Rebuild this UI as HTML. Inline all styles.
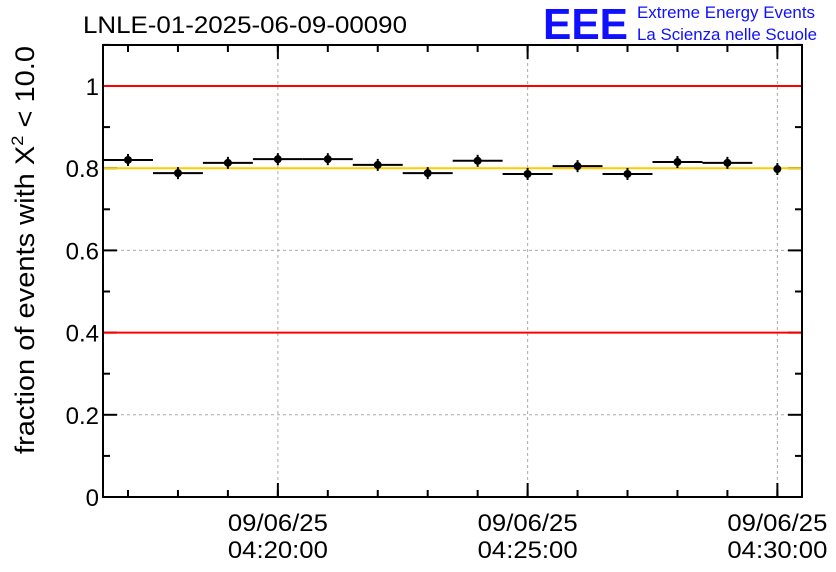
<!DOCTYPE html>
<html><head><meta charset="utf-8"><style>body{margin:0;background:#fff}svg{display:block;font-family:"Liberation Sans",sans-serif}</style></head>
<body>
<svg id="c" width="836" height="572" xmlns="http://www.w3.org/2000/svg">
<text x="83" y="33" font-size="24" textLength="324" lengthAdjust="spacingAndGlyphs">LNLE-01-2025-06-09-00090</text>
<text x="543" y="39" font-size="44" font-weight="bold" fill="#1010ff" textLength="85" lengthAdjust="spacingAndGlyphs">EEE</text>
<text x="637" y="18" font-size="16.5" fill="#1010ff" textLength="178" lengthAdjust="spacingAndGlyphs">Extreme Energy Events</text>
<text x="637" y="40" font-size="16.5" fill="#1010ff" textLength="180" lengthAdjust="spacingAndGlyphs">La Scienza nelle Scuole</text>
<text transform="translate(34,250) rotate(-90)" text-anchor="middle" font-size="27" textLength="408" lengthAdjust="spacingAndGlyphs">fraction of events with X<tspan dy="-11" font-size="17">2</tspan><tspan dy="11"> &lt; 10.0</tspan></text>
<g id="plot"></g>
</svg>
<script>
const minutes=[0,1,2,3,4,5,6,7,8,9,10,11,12,13];
const values=[0.820,0.788,0.813,0.822,0.822,0.808,0.788,0.818,0.786,0.805,0.786,0.815,0.813,0.798];
const halfWidth=[0.5,0.5,0.5,0.5,0.5,0.5,0.5,0.5,0.5,0.5,0.5,0.5,0.5,0];
const yTicks=[0,0.2,0.4,0.6,0.8,1];
const yTickLabels=["0","0.2","0.4","0.6","0.8","1"];
const xMajor=[3,8,13];
const xMajorLabels=[["09/06/25","04:20:00"],["09/06/25","04:25:00"],["09/06/25","04:30:00"]];
const refRed=[1,0.4], refYellow=[0.8];
const L=103,R=802,T=45,B=497;
const X=m=>128+m*49.95;
const Y=v=>497-v*411;
const g=document.getElementById('plot');
const NS='http://www.w3.org/2000/svg';
function mk(t,a,name,txt){const e=document.createElementNS(NS,t);for(const k in a)e.setAttribute(k,a[k]);


if(txt!==undefined)e.textContent=txt;g.appendChild(e);return e;}
yTicks.forEach((v,i)=>{
 if(v>0&&v!=1&&v!=0.4&&v!=0.8) mk('line',{x1:L,x2:R,y1:Y(v),y2:Y(v),stroke:'#aaa','stroke-dasharray':'3,3'},'y-grid-line');
 mk('line',{x1:L,x2:L+14,y1:Y(v),y2:Y(v),stroke:'#000','stroke-width':2},'y-tick');
 mk('line',{x1:R-14,x2:R,y1:Y(v),y2:Y(v),stroke:'#000','stroke-width':2},'y-tick-right');
 mk('text',{x:L-4,y:Y(v)+9,'text-anchor':'end','font-size':24},'y-tick-label',yTickLabels[i]);
});
for(let v=0.1;v<1.1;v+=0.2){mk('line',{x1:L,x2:L+7,y1:Y(v),y2:Y(v),stroke:'#000','stroke-width':2},'y-minor-tick');mk('line',{x1:R-7,x2:R,y1:Y(v),y2:Y(v),stroke:'#000','stroke-width':2},'y-minor-tick-right');}
xMajor.forEach((m,i)=>{const px=X(m)-0.5*49.95+25;
 mk('line',{x1:px,x2:px,y1:T,y2:B,stroke:'#aaa','stroke-dasharray':'3,3'},'x-grid-line');
 mk('line',{x1:px,x2:px,y1:B-14,y2:B,stroke:'#000','stroke-width':2},'x-tick');
 mk('line',{x1:px,x2:px,y1:T,y2:T+14,stroke:'#000','stroke-width':2},'x-tick-top');
 mk('text',{x:px,y:531,'text-anchor':'middle','font-size':24,textLength:100,lengthAdjust:'spacingAndGlyphs'},'x-tick-date',xMajorLabels[i][0]);
 mk('text',{x:px,y:558,'text-anchor':'middle','font-size':24,textLength:100,lengthAdjust:'spacingAndGlyphs'},'x-tick-time',xMajorLabels[i][1]);
});
minutes.forEach(m=>{mk('line',{x1:X(m),x2:X(m),y1:B-7,y2:B,stroke:'#000','stroke-width':2},'x-minor-tick');mk('line',{x1:X(m),x2:X(m),y1:T,y2:T+7,stroke:'#000','stroke-width':2},'x-minor-tick-top');});
refRed.forEach(v=>mk('line',{x1:L,x2:R,y1:Y(v),y2:Y(v),stroke:'#f00','stroke-width':2},'threshold-red'));
refYellow.forEach(v=>mk('line',{x1:L,x2:R,y1:Y(v),y2:Y(v),stroke:'#fc0','stroke-width':2},'threshold-yellow'));
minutes.forEach((m,i)=>{const y=Y(values[i]);
 if(halfWidth[i]>0)mk('line',{x1:X(m-halfWidth[i]),x2:X(m+halfWidth[i]),y1:y,y2:y,stroke:'#000','stroke-width':2},'data-xerr');
 mk('line',{x1:X(m),x2:X(m),y1:y-6,y2:y+6,stroke:'#000','stroke-width':2},'data-yerr');
 mk('circle',{cx:X(m),cy:y,r:4,fill:'#000'},'data-point');
});
mk('rect',{x:L,y:T,width:R-L,height:B-T,fill:'none',stroke:'#000','stroke-width':2},'plot-frame');
</script>
</body></html>
